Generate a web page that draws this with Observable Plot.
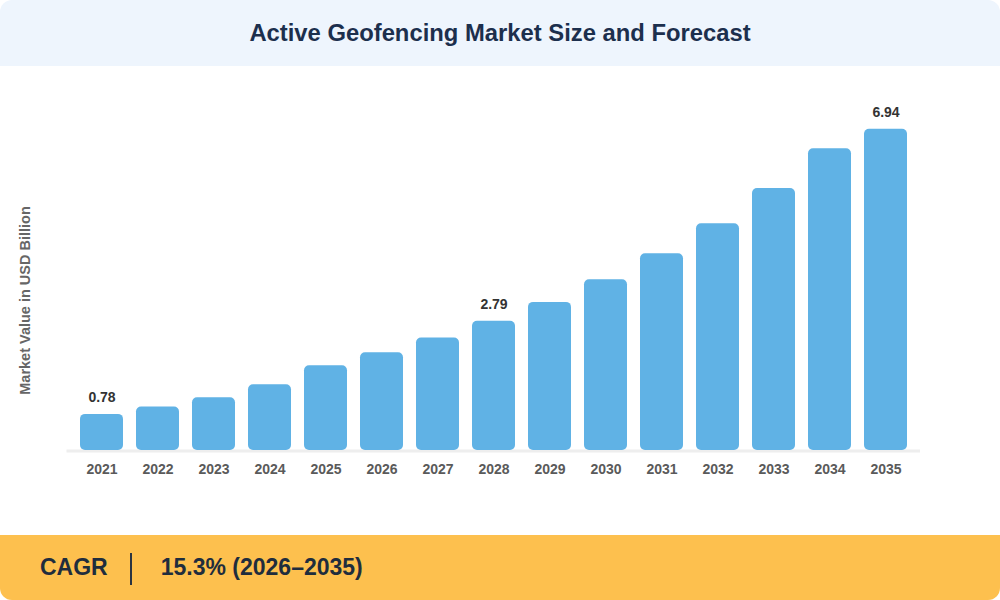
<!DOCTYPE html>
<html>
<head>
<meta charset="utf-8">
<script src="https://cdn.jsdelivr.net/npm/d3@7"></script>
<script src="https://cdn.jsdelivr.net/npm/@observablehq/plot@0.6"></script>
<style>
  html, body { margin: 0; padding: 0; background: #ffffff; }
  #wrap { position: relative; width: 1000px; height: 600px; overflow: hidden; font-family: "Liberation Sans", Arial, Helvetica, sans-serif; background: #ffffff; }
  #header { height: 66px; background: #eef5fd; border-radius: 12px 12px 0 0; display: flex; align-items: center; justify-content: center; }
  #header h1 { margin: 0; font-size: 23.8px; font-weight: 700; color: #1c2f4d; }
  #chart { height: 469px; }
  #footer { height: 65px; background: #fdc04e; border-radius: 0 0 12px 12px; display: flex; align-items: center; color: #1f2d3d; font-weight: 700; font-size: 23px; }
  #footer .k { margin-left: 40px; }
  #footer .sep { width: 2px; height: 32px; background: #2a3441; margin-left: 22px; margin-right: 29px; margin-top: 3px; }
</style>
</head>
<body>
<div id="wrap">
  <div id="header"><h1>Active Geofencing Market Size and Forecast</h1></div>
  <div id="chart"></div>
  <div id="footer"><span class="k">CAGR</span><span class="sep"></span><span class="v">15.3% (2026–2035)</span></div>
</div>
<script>
const years = ["2021","2022","2023","2024","2025","2026","2027","2028","2029","2030","2031","2032","2033","2034","2035"];
const values = [0.78, 0.94, 1.14, 1.42, 1.83, 2.11, 2.43, 2.79, 3.20, 3.69, 4.25, 4.90, 5.66, 6.52, 6.94];
const labeledYears = ["2021", "2028", "2035"];
const yTitle = "Market Value in USD Billion";

const data = years.map((year, i) => ({year, value: values[i]}));
const labeled = data.filter(d => labeledYears.includes(d.year));

const chart = Plot.plot({
  width: 1000,
  height: 469,
  marginLeft: 66.5,
  marginRight: 80,
  marginTop: 60,
  marginBottom: 85,
  style: {fontFamily: '"Liberation Sans", Arial, Helvetica, sans-serif', fontSize: "14px", background: "transparent", overflow: "visible"},
  x: {type: "band", domain: years, padding: 0.24, label: null},
  y: {domain: [0, 7], axis: null},
  marks: [
    Plot.ruleY([0], {stroke: "#eeeeee", strokeWidth: 3, dy: 0.5}),
    Plot.barY(data, {x: "year", y: "value", fill: "#60b2e5", rx: 5}),
    Plot.text(labeled, {x: "year", y: "value", text: d => d.value.toFixed(2), dy: -17, fill: "#333333", fontWeight: "bold", fontSize: 14}),
    Plot.axisX({tickSize: 0, tickPadding: 14, fontSize: 14, fontWeight: "bold", color: "#5a5a5a", label: null}),
    Plot.text([yTitle], {frameAnchor: "left", textAnchor: "middle", text: d => d, rotate: -90, dx: -41.5, dy: 12, fill: "#666666", fontWeight: "bold", fontSize: 14.5})
  ]
});
document.getElementById("chart").appendChild(chart);
</script>
</body>
</html>
